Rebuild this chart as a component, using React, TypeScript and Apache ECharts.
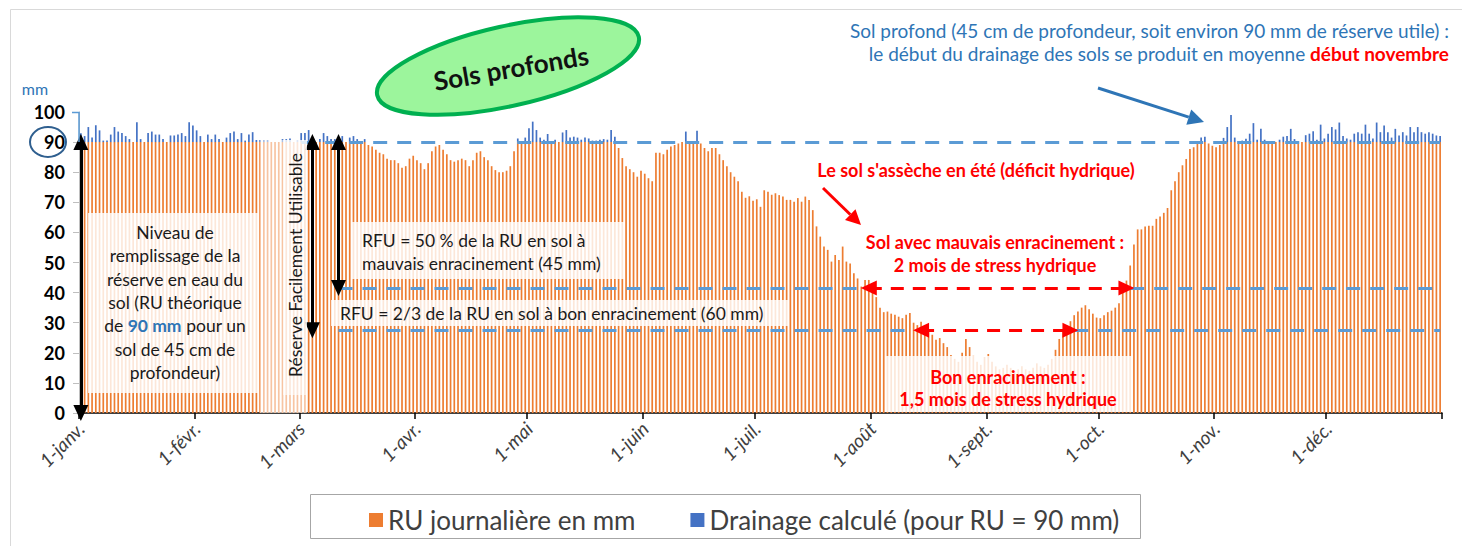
import React, { useEffect, useRef } from 'react';
import * as echarts from 'echarts';

const FONT = 'Lato, "Open Sans", "Liberation Sans", sans-serif';

// ---- Categories (days of the year) ----
const monthNames = ['janv.', 'févr.', 'mars', 'avr.', 'mai', 'juin', 'juil.', 'août', 'sept.', 'oct.', 'nov.', 'déc.'];
const monthDays = [31, 28, 31, 30, 31, 30, 31, 31, 30, 31, 30, 31];

// ---- RU journalière (mm), month by month ----
const ruJan = [90, 90, 90, 90, 90, 90, 90, 90, 90, 90, 90, 90, 90, 90, 90, 90, 90, 90, 90, 90, 90, 90, 90, 90, 90, 90, 90, 90, 90, 90, 90];
const ruFeb = [90, 90, 90, 90, 90, 90, 90, 90, 90, 90, 90, 90, 90, 90, 90, 90, 90, 90, 90, 90, 90, 90, 90, 90, 90, 90, 90, 90];
const ruMar = [90, 90, 90, 90, 90, 90, 90, 90, 90, 90, 90, 90, 90, 90, 90, 90, 90, 90, 89, 88.5, 87.5, 86.5, 86, 84.5, 84, 84, 83, 81.5, 82, 84.5, 85.5];
const ruApr = [84, 83, 81, 83, 87, 88.5, 89, 87.5, 86, 84, 83.5, 84, 84.5, 84, 82, 84, 86.5, 87, 85, 84, 82, 80.7, 80, 80, 80.5, 82, 87, 90, 90, 90];
const ruMay = [90, 90, 90, 90, 90, 90, 90, 90, 90, 90, 90, 90, 90, 90, 90, 90, 90, 90, 90, 90, 90, 90, 90, 90, 88, 84.7, 82, 81, 80, 78.5, 80.5];
const ruJun = [79.5, 78, 77, 86.5, 86.5, 86, 87.5, 88.5, 89, 89.5, 90, 90, 90, 90, 90, 89.5, 88, 87, 88, 88, 86, 84, 82, 80, 78.5, 77, 73.5, 71.5, 72, 70.5];
const ruJul = [71, 68.5, 74, 73.5, 72.5, 73, 72.4, 71.9, 70.8, 70.8, 70.2, 71.4, 70.2, 71.9, 70.8, 67.4, 62, 58.6, 55.3, 54.2, 50.3, 52.5, 50.8, 55.3, 50.3, 49.7, 46.4, 44.7, 42, 44.2, 44.2];
const ruAug = [41, 38.5, 35, 33.5, 33.7, 33, 32.6, 32, 31.5, 32.6, 33.2, 30, 29.2, 30.3, 27.6, 27.6, 26, 24.3, 24.9, 23.2, 21.9, 19.3, 18, 17, 20, 24.6, 21.9, 19, 17, 16, 18.6];
const ruSep = [19.6, 17, 15.5, 14.5, 15, 16, 15, 14, 14.5, 15.5, 14.5, 14, 15, 16.5, 15.5, 15, 16, 18, 21, 24.6, 27, 29, 30.5, 32.5, 33.7, 35, 35.8, 34.5, 33, 31.7];
const ruOct = [31.5, 32.5, 33.5, 34, 35, 36.5, 41.5, 44, 49, 56, 61, 61, 62, 62.2, 62.2, 64.5, 65.3, 66.5, 68.1, 74, 77, 80, 82.3, 84.4, 87.7, 88.3, 89.5, 90, 90, 89.5, 88.8];
const ruNov = [88.3, 89, 90, 90, 90, 90, 90, 90, 90, 90, 90, 90, 90, 90, 90, 90, 90, 90, 90, 90, 90, 90, 90, 90, 90, 90, 90, 90, 90, 90];
const ruDec = [90, 90, 90, 90, 90, 90, 90, 90, 90, 90, 90, 90, 90, 90, 90, 90, 90, 90, 90, 90, 90, 90, 90, 90, 90, 90, 90, 90, 90, 90, 90];

// ---- Drainage calculé (mm) ----
const drJan = [2.9, 2, 5, 1.5, 5.6, 3.9, 0.5, 0.5, 2.5, 5, 3.5, 3, 2, 1, 0, 6.6, 1, 0, 3, 3.5, 2.5, 2.5, 1, 0, 2.2, 2.2, 2.5, 3, 2, 6.6, 5.5];
const drFeb = [3.9, 2, 0, 2.5, 1, 2.5, 1, 0, 1.5, 3, 3.5, 1, 3, 0.5, 2.5, 3.3, 0.7, 0.7, 0.7, 0.7, 0, 0, 0, 1, 1, 1.2, 0, 0.7];
const drMar = [3, 3, 4, 1.3, 0, 1, 3, 2, 1, 1, 1, 2, 0, 1.5, 2, 1, 0, 1, 0, 0, 0, 0, 0, 0, 0, 0, 0, 0, 0, 0, 0];
const drApr = [0, 0, 0, 0, 0, 0, 0, 0, 0, 0, 0, 0, 0, 0, 0, 0, 0, 0, 0, 0, 0, 0, 0, 0, 0, 0, 0, 1.2, 0, 1.5];
const drMay = [4.6, 6.8, 4, 1.5, 0.8, 2.7, 0, 0.8, 0, 3.2, 4, 1.5, 1.8, 1.5, 0.8, 1.5, 1.2, 0.5, 0.5, 0.8, 1, 0.8, 4, 1.8, 0, 0, 0, 0, 0, 0, 0];
const drJun = [0, 0, 0, 0, 0, 0, 0, 0, 0, 0, 0, 3.5, 0, 0, 3.8, 0, 0, 0, 0, 0, 0, 0, 0, 0, 0, 0, 0, 0, 0, 0];
const drJul = [0, 0, 0, 0, 0, 0, 0, 0, 0, 0, 0, 0, 0, 0, 0, 0, 0, 0, 0, 0, 0, 0, 0, 0, 0, 0, 0, 0, 0, 0, 0];
const drAug = [0, 0, 0, 0, 0, 0, 0, 0, 0, 0, 0, 0, 0, 0, 0, 0, 0, 0, 0, 0, 0, 0, 0, 0, 0, 0, 0, 0, 0, 0, 0];
const drSep = [0, 0, 0, 0, 0, 0, 0, 0, 0, 0, 0, 0, 0, 0, 0, 0, 0, 0, 0, 0, 0, 0, 0, 0, 0, 0, 0, 0, 0, 0];
const drOct = [0, 0, 0, 0, 0, 0, 0, 0, 0, 0, 0, 0, 0, 0, 0, 0, 0, 0, 0, 0, 0, 0, 0, 0, 0, 0, 0, 1.5, 1.8, 0, 0];
const drNov = [0, 0, 1.4, 5, 9, 1.5, 0.3, 0.5, 1.1, 2.8, 6.3, 0.8, 4.4, 0.8, 0.3, 0.3, 0, 0.8, 1.8, 2, 4.4, 1, 0.3, 0, 2.3, 2.8, 3.6, 0.8, 5.8, 1.2];
const drDec = [2.8, 5, 4.2, 6.5, 2, 1.2, 0.8, 2.8, 3.3, 2.8, 5.8, 2.8, 1.2, 6.5, 3.3, 5.5, 3.3, 1.5, 4.4, 2.2, 3.3, 2.2, 5, 3.3, 5, 3.3, 2.8, 3.3, 2.8, 2.2, 2];

// ---- Reference levels (mm) ----
const ruLevel = 90;
const rfuMauvais = 41.5;
const rfuBon = 27.5;

const seriesNames = ['RU journalière en mm', 'Drainage calculé (pour RU = 90 mm)'];

const days: string[] = [];
monthNames.forEach((m, i) => {
  for (let d = 1; d <= monthDays[i]; d++) days.push(`${d}-${m}`);
});
const ru = [...ruJan, ...ruFeb, ...ruMar, ...ruApr, ...ruMay, ...ruJun, ...ruJul, ...ruAug, ...ruSep, ...ruOct, ...ruNov, ...ruDec];
const dr = [...drJan, ...drFeb, ...drMar, ...drApr, ...drMay, ...drJun, ...drJul, ...drAug, ...drSep, ...drOct, ...drNov, ...drDec];

function arrow(x1: number, y1: number, x2: number, y2: number, color: string, width: number, headLen: number, headW: number) {
  const dx = x2 - x1, dy = y2 - y1;
  const L = Math.hypot(dx, dy);
  const ux = dx / L, uy = dy / L;
  const bx = x2 - ux * headLen, by = y2 - uy * headLen;
  const nx = -uy, ny = ux;
  return [
    { type: 'line', z: 60, silent: true, shape: { x1, y1, x2: bx, y2: by }, style: { stroke: color, lineWidth: width } },
    { type: 'polygon', z: 60, silent: true, shape: { points: [[x2, y2], [bx + nx * headW, by + ny * headW], [bx - nx * headW, by - ny * headW]] }, style: { fill: color } },
  ];
}

function box(x: number, y: number, w: number, h: number, op = 0.82) {
  return { type: 'rect', z: 50, silent: true, shape: { x, y, width: w, height: h }, style: { fill: `rgba(255,255,255,${op})` } };
}

const BLUE_DASH = { color: '#5b9bd5', width: 3, type: [14, 10] as number[] };
const RED_DASH = { color: '#ff0000', width: 3, type: [13, 9] as number[] };
const BLACK = { color: '#000000', width: 3, type: 'solid' };

const option: any = {
  animation: false,
  backgroundColor: '#ffffff',
  grid: { left: 79, right: 20, top: 112, bottom: 133, containLabel: false },
  legend: {
    left: 364,
    top: 502,
    itemGap: 55,
    itemWidth: 14,
    itemHeight: 14,
    icon: 'rect',
    textStyle: { fontSize: 26, color: '#404040', fontFamily: FONT },
    data: seriesNames,
  },
  xAxis: {
    type: 'category',
    data: days,
    boundaryGap: true,
    axisLine: { lineStyle: { color: '#000', width: 1.5 } },
    axisTick: {
      show: true,
      length: 6,
      alignWithLabel: false,
      interval: (i: number, v: string) => v.startsWith('1-'),
      lineStyle: { color: '#000', width: 1.5 },
    },
    axisLabel: {
      interval: (i: number, v: string) => v.startsWith('1-'),
      rotate: 45,
      margin: 12,
      fontSize: 19,
      fontStyle: 'italic',
      color: '#404040',
      fontFamily: FONT,
    },
  },
  yAxis: {
    type: 'value',
    min: 0,
    max: 100,
    interval: 10,
    splitLine: { show: false },
    axisLine: { show: true, lineStyle: { color: '#bfbfbf' } },
    axisTick: { show: true, length: 6, lineStyle: { color: '#bfbfbf' } },
    axisLabel: { fontSize: 18, fontWeight: 'bold', color: '#000', fontFamily: FONT, margin: 14 },
  },
  series: [
    {
      name: seriesNames[0],
      type: 'bar',
      stack: 'a',
      data: ru,
      barWidth: 1.7,
      itemStyle: { color: '#ed7d31' },
      markLine: {
        silent: true,
        symbol: 'none',
        label: { show: false },
        data: [
          [{ coord: [59, ruLevel], lineStyle: BLUE_DASH }, { coord: [364, ruLevel] }],
          [{ coord: [69, rfuMauvais], lineStyle: BLUE_DASH }, { coord: [210, rfuMauvais] }],
          [{ coord: [281, rfuMauvais], lineStyle: BLUE_DASH }, { coord: [364, rfuMauvais] }],
          [{ coord: [69, rfuBon], lineStyle: BLUE_DASH }, { coord: [223, rfuBon] }],
          [{ coord: [266, rfuBon], lineStyle: BLUE_DASH }, { coord: [364, rfuBon] }],
        ],
      },
    },
    {
      name: seriesNames[1],
      type: 'bar',
      stack: 'a',
      data: dr,
      barWidth: 1.7,
      itemStyle: { color: '#4472c4' },
      markLine: {
        silent: true,
        symbol: ['triangle', 'triangle'],
        symbolSize: [15, 16],
        label: { show: false },
        data: [
          [{ coord: [0, ruLevel], lineStyle: BLACK }, { coord: [0, 0] }],
          [{ coord: [62, ruLevel], lineStyle: BLACK }, { coord: [62, rfuBon] }],
          [{ coord: [69, ruLevel], lineStyle: BLACK }, { coord: [69, rfuMauvais] }],
          [{ coord: [211, rfuMauvais], lineStyle: RED_DASH }, { coord: [280, rfuMauvais] }],
          [{ coord: [225, rfuBon], lineStyle: RED_DASH }, { coord: [265, rfuBon] }],
        ],
      },
    },
  ],
  graphic: {
    elements: [
      { type: 'rect', z: 1, silent: true, shape: { x: 10.5, y: 9.5, width: 1460, height: 545 }, style: { fill: 'none', stroke: '#d9d9d9', lineWidth: 1 } },
      // green ellipse
      { type: 'ellipse', z: 60, silent: true, x: 508, y: 66, rotation: 0.22, shape: { cx: 0, cy: 0, rx: 134, ry: 40 }, style: { fill: '#9cf59c', stroke: '#00b050', lineWidth: 4 } },
      { type: 'text', z: 61, silent: true, x: 511, y: 68, rotation: 0.17, style: { text: 'Sols profonds', fontSize: 26, fontWeight: 'bold', fontFamily: FONT, fill: '#111', align: 'center', verticalAlign: 'middle' } },
      // top right note
      {
        type: 'text', z: 61, silent: true, x: 1449, y: 42,
        style: {
          text: '{a|Sol profond (45 cm de profondeur, soit environ 90 mm de réserve utile) :}\n{a|le début du drainage des sols se produit en moyenne }{r|début novembre}',
          align: 'right', verticalAlign: 'middle', fontFamily: FONT, fontSize: 19,
          rich: {
            a: { fill: '#2e75b6', fontSize: 19, fontFamily: FONT, lineHeight: 23 },
            r: { fill: '#ff0000', fontSize: 19, fontWeight: 'bold', fontFamily: FONT, lineHeight: 23 },
          },
        },
      },
      ...arrow(1098, 88, 1204, 122, '#2e75b6', 3, 16, 8),
      // red labels
      { type: 'text', z: 61, silent: true, x: 976, y: 170, style: { text: "Le sol s'assèche en été (déficit hydrique)", fontSize: 18, fontWeight: 'bold', fontFamily: FONT, fill: '#ff0000', align: 'center', verticalAlign: 'middle' } },
      ...arrow(823, 188, 861, 225, '#ff0000', 3, 15, 7.5),
      { type: 'text', z: 61, silent: true, x: 995, y: 253.5, style: { text: 'Sol avec mauvais enracinement :\n2 mois de stress hydrique', fontSize: 18, fontWeight: 'bold', fontFamily: FONT, fill: '#ff0000', align: 'center', verticalAlign: 'middle', lineHeight: 23 } },
      box(885, 356, 247, 56),
      { type: 'text', z: 61, silent: true, x: 1008, y: 387.5, style: { text: 'Bon enracinement :\n1,5 mois de stress hydrique', fontSize: 18, fontWeight: 'bold', fontFamily: FONT, fill: '#ff0000', align: 'center', verticalAlign: 'middle', lineHeight: 22 } },
      // left explanatory box
      box(88, 213, 170, 180),
      {
        type: 'text', z: 61, silent: true, x: 175, y: 302.5,
        style: {
          text: 'Niveau de\nremplissage de la\nréserve en eau du\nsol (RU théorique\nde {b|90 mm} pour un\nsol de 45 cm de\nprofondeur)',
          fontSize: 17.5, fontFamily: FONT, fill: '#1a1a1a', align: 'center', verticalAlign: 'middle', lineHeight: 23.3,
          rich: { b: { fill: '#2e75b6', fontWeight: 'bold', fontSize: 17.5, fontFamily: FONT, lineHeight: 23.3 } },
        },
      },
      box(260, 140, 47, 273, 0.55),
      box(283, 140, 24, 255, 0.6),
      { type: 'text', z: 61, silent: true, x: 295, y: 265, rotation: Math.PI / 2, style: { text: 'Réserve Facilement Utilisable', fontSize: 17.5, fontFamily: FONT, fill: '#1a1a1a', align: 'center', verticalAlign: 'middle' } },
      box(351, 222, 274, 57),
      { type: 'text', z: 61, silent: true, x: 362, y: 251.5, style: { text: 'RFU = 50 % de la RU en sol à\nmauvais enracinement (45 mm)', fontSize: 17.5, fontFamily: FONT, fill: '#1a1a1a', align: 'left', verticalAlign: 'middle', lineHeight: 23 } },
      box(331, 300, 458, 26),
      { type: 'text', z: 61, silent: true, x: 340, y: 313, style: { text: 'RFU = 2/3 de la RU en sol à bon enracinement (60 mm)', fontSize: 17.5, fontFamily: FONT, fill: '#1a1a1a', align: 'left', verticalAlign: 'middle' } },
      // y axis decorations
      { type: 'text', z: 61, silent: true, x: 35, y: 88, style: { text: 'mm', fontSize: 16, fontFamily: FONT, fill: '#2e75b6', align: 'center', verticalAlign: 'middle' } },
      { type: 'ellipse', z: 61, silent: true, shape: { cx: 48, cy: 142, rx: 18, ry: 15 }, style: { fill: 'none', stroke: '#2f5f8f', lineWidth: 2 } },
      { type: 'polyline', z: 61, silent: true, shape: { points: [[72, 112.5], [79, 112.5], [79, 142]] }, style: { stroke: '#5b9bd5', lineWidth: 1.5, fill: 'none' } },
      // legend frame
      { type: 'rect', z: 61, silent: true, shape: { x: 310.5, y: 494.5, width: 830, height: 44 }, style: { fill: 'none', stroke: '#a6a6a6', lineWidth: 1 } },
    ],
  },
};

export default function App() {
  const ref = useRef<HTMLDivElement>(null);
  useEffect(() => {
    const chart = echarts.init(ref.current!, null, { renderer: 'svg' });
    chart.setOption(option);
    return () => chart.dispose();
  }, []);
  return <div ref={ref} style={{ position: 'fixed', left: 0, top: 0, width: 1462, height: 546, background: '#fff' }} />;
}
